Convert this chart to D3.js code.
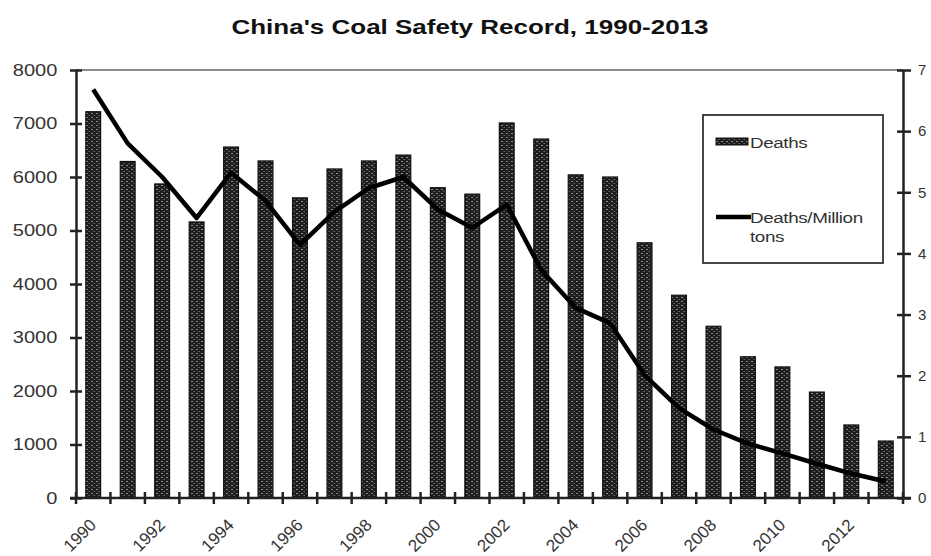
<!DOCTYPE html>
<html><head><meta charset="utf-8">
<script src="https://cdn.jsdelivr.net/npm/d3@7/dist/d3.min.js"></script>
<style>
body{margin:0;background:#fff;}
text{font-family:"Liberation Sans",Arial,sans-serif;}
</style></head>
<body><svg id="c" width="931" height="556"></svg>
<script>
const years = [1990,1991,1992,1993,1994,1995,1996,1997,1998,1999,2000,2001,2002,2003,2004,2005,2006,2007,2008,2009,2010,2011,2012,2013];
const deaths = [7220,6290,5870,5160,6560,6300,5610,6150,6300,6410,5800,5680,7010,6710,6040,6000,4770,3790,3210,2640,2450,1980,1365,1065];
const rate = [6.68,5.80,5.25,4.58,5.32,4.86,4.14,4.68,5.07,5.25,4.72,4.42,4.80,3.73,3.11,2.86,2.01,1.47,1.12,0.89,0.73,0.56,0.40,0.27];
const leftTicks = [0,1000,2000,3000,4000,5000,6000,7000,8000];
const rightTicks = [0,1,2,3,4,5,6,7];
const xLabelYears = [1990,1992,1994,1996,1998,2000,2002,2004,2006,2008,2010,2012];

const svg = d3.select("#c");
const L=76, R=903, T=70, B=498;
const SX = 1.25; // horizontal stretch of the text in the reference
const x = d3.scaleBand().domain(years).range([L,R]).paddingInner(0.57).paddingOuter(0.285);
const band = (R-L)/years.length;
const yL = d3.scaleLinear().domain([0,8000]).range([B,T]);
const yR = d3.scaleLinear().domain([0,7]).range([B,T]);

const defs = svg.append("defs");
const pat = defs.append("pattern").attr("id","brick").attr("patternUnits","userSpaceOnUse")
  .attr("width",5).attr("height",4);
pat.append("rect").attr("width",5).attr("height",4).attr("fill","#1e1e1e");
pat.append("rect").attr("x",1).attr("y",1).attr("width",2).attr("height",1).attr("fill","#8a8a8a");
pat.append("rect").attr("x",3.5).attr("y",3).attr("width",1.5).attr("height",1).attr("fill","#6a6a6a");

// title
svg.append("text").attr("transform",`translate(470,34) scale(1.3,1)`).attr("text-anchor","middle")
  .attr("font-size",20).attr("font-weight","bold").attr("fill","#111")
  .text("China's Coal Safety Record, 1990-2013");

// top border
svg.append("line").attr("x1",L).attr("x2",R).attr("y1",T).attr("y2",T)
  .attr("stroke","#666").attr("stroke-width",1.5);

// bars
svg.append("g").selectAll("rect").data(years).join("rect")
  .attr("x",d=>x(d)).attr("width",x.bandwidth())
  .attr("y",(d,i)=>yL(deaths[i])).attr("height",(d,i)=>B-yL(deaths[i]))
  .attr("fill","url(#brick)").attr("stroke","#111").attr("stroke-width",1.2);

// line
const line = d3.line().x((d,i)=>x(years[i])+x.bandwidth()/2).y(d=>yR(d));
svg.append("path").datum(rate).attr("d",line).attr("fill","none")
  .attr("stroke","#000").attr("stroke-width",4.5).attr("stroke-linejoin","round");

// left axis
const gl = svg.append("g").attr("transform",`translate(${L},0)`)
  .call(d3.axisLeft(yL).tickValues(leftTicks).tickSize(6).tickPadding(9).tickSizeOuter(0).tickFormat(d3.format("d")));
gl.select(".domain").attr("stroke","#222").attr("stroke-width",2.5);
gl.selectAll(".tick line").attr("stroke","#222").attr("stroke-width",2.5).attr("x2",-6).attr("x1",6);
gl.selectAll(".tick text").attr("font-size",16).attr("fill","#333")
  .attr("font-family","Liberation Sans, Arial, sans-serif").attr("transform",`scale(${SX},1)`);

// right axis
const gr = svg.append("g").attr("transform",`translate(${R},0)`)
  .call(d3.axisRight(yR).tickValues(rightTicks).tickSize(8).tickPadding(7).tickSizeOuter(0).tickFormat(d3.format("d")));
gr.select(".domain").attr("stroke","#222").attr("stroke-width",2.5);
gr.selectAll(".tick line").attr("stroke","#222").attr("stroke-width",2.5).attr("x1",-6).attr("x2",8);
gr.selectAll(".tick text").attr("font-size",15).attr("fill","#333")
  .attr("font-family","Liberation Sans, Arial, sans-serif");

// bottom axis
const gb = svg.append("g").attr("transform",`translate(0,${B})`);
gb.append("line").attr("x1",L-6).attr("x2",R+8).attr("stroke","#222").attr("stroke-width",2.5);
gb.selectAll("line.t").data(d3.range(years.length+1)).join("line").attr("class","t")
  .attr("x1",i=>L+i*band).attr("x2",i=>L+i*band).attr("y1",-6).attr("y2",6)
  .attr("stroke","#222").attr("stroke-width",2.5);
gb.selectAll("text").data(xLabelYears).join("text")
  .attr("transform",d=>`translate(${x(d)+x.bandwidth()/2+4},${28}) rotate(-45)`)
  .attr("text-anchor","end").attr("font-size",17).attr("fill","#333")
  .text(d=>d);

// legend
const lg = svg.append("g");
lg.append("rect").attr("x",703).attr("y",115).attr("width",180).attr("height",148)
  .attr("fill","#fff").attr("stroke","#333").attr("stroke-width",1.8);
lg.append("rect").attr("x",716).attr("y",138).attr("width",32).attr("height",7)
  .attr("fill","url(#brick)").attr("stroke","#111").attr("stroke-width",1);
const lt = (t,y)=>lg.append("text").attr("transform",`translate(750,${y}) scale(1.3,1)`)
  .attr("font-size",14.5).attr("fill","#333").attr("letter-spacing",-0.3).text(t);
lt("Deaths",148);
lg.append("line").attr("x1",716).attr("x2",751).attr("y1",217).attr("y2",217)
  .attr("stroke","#000").attr("stroke-width",4.5);
lt("Deaths/Million",223);
lt("tons",242);
</script></body></html>
